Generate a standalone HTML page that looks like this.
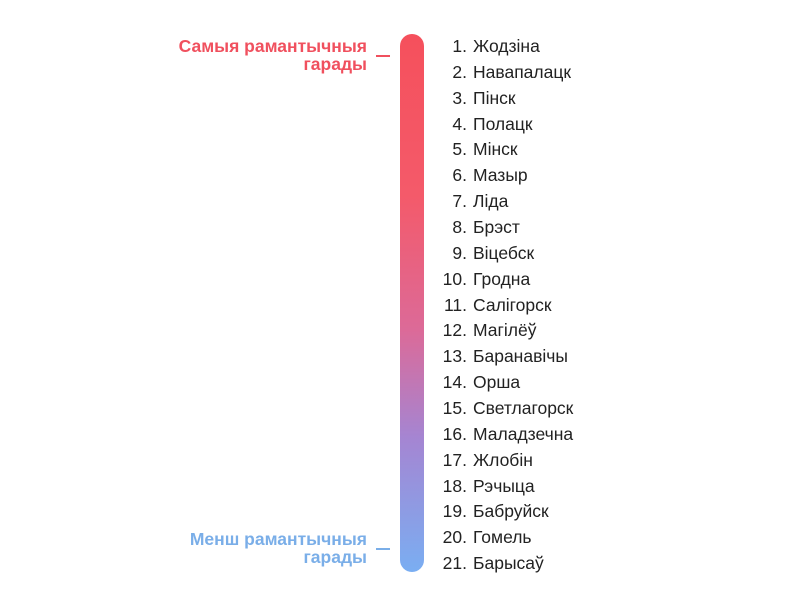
<!DOCTYPE html>
<html><head><meta charset="utf-8"><style>
body{margin:0;width:800px;height:605px;background:#fff;position:relative;font-family:"Liberation Sans",sans-serif;overflow:hidden}
.bar{position:absolute;left:400px;top:34px;width:24px;height:538px;border-radius:12px;background:linear-gradient(#f5505c 0%,#f45a6a 30%,#dc6a98 55%,#a585d2 75%,#7aaef2 100%)}
.lab{position:absolute;right:433px;text-align:right;font-weight:bold;font-size:17.5px;line-height:18px;white-space:nowrap}
.dash{position:absolute;left:376px;width:14px;height:1.5px}
.row{position:absolute;left:420px;font-size:17.5px;color:#222;height:20px;line-height:20px;white-space:nowrap}
.row .n{display:inline-block;width:47px;text-align:right}
.row .t{margin-left:6px}
</style></head><body>
<div class="bar"></div>
<div class="lab" style="top:37px;color:#f0505e">Самыя рамантычныя<br>гарады</div>
<div class="dash" style="top:55px;background:#f0505e"></div>
<div class="lab" style="top:530px;color:#7aaee8">Менш рамантычныя<br>гарады</div>
<div class="dash" style="top:548px;background:#7aaee8"></div>
<div id="list"></div>
<script>
var n=["Жодзіна","Навапалацк","Пінск","Полацк","Мінск","Мазыр","Ліда","Брэст","Віцебск","Гродна","Салігорск","Магілёў","Баранавічы","Орша","Светлагорск","Маладзечна","Жлобін","Рэчыца","Бабруйск","Гомель","Барысаў"];
var h="";for(var i=0;i<21;i++){h+='<div class="row" style="top:'+(36+i*25.85).toFixed(1)+'px"><span class="n">'+(i+1)+'.</span><span class="t">'+n[i]+'</span></div>';}
document.getElementById("list").innerHTML=h;
</script>
</body></html>
